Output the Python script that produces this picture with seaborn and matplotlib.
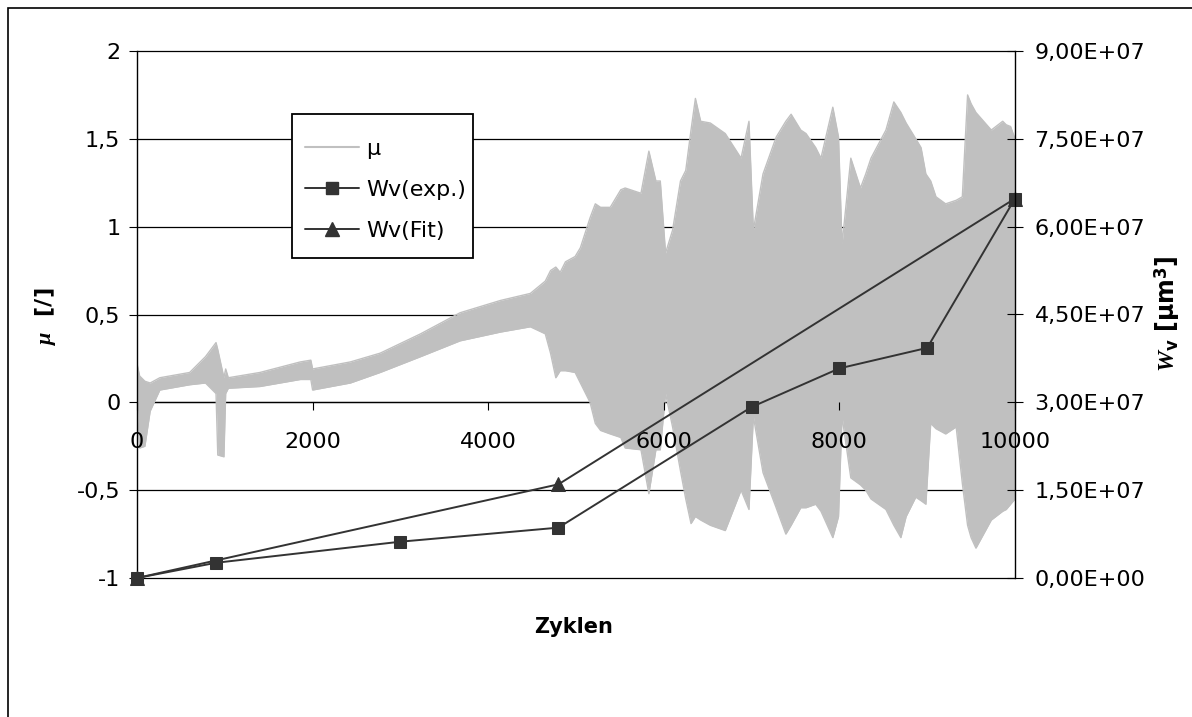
import matplotlib
matplotlib.use("Agg")
import matplotlib.pyplot as plt
import seaborn as sns
import pandas as pd
from matplotlib.lines import Line2D
from matplotlib.patches import Rectangle
from matplotlib.ticker import FixedLocator, FixedFormatter

# ---- data ----
# friction coefficient mu: upper / lower envelope of the dense oscillating signal
cycles_mu = [0, 30, 90, 150, 260, 600, 780, 900, 920, 990, 1010, 1040, 1400, 1860,
             1980, 2000, 2430, 2770, 3230, 3680, 4140, 4480, 4650, 4710, 4770, 4820,
             4880, 4990, 5050, 5160, 5220, 5280, 5390, 5510, 5560, 5740, 5830, 5910,
             5960, 6020, 6100, 6190, 6250, 6310, 6360, 6420, 6530, 6700, 6880, 6970,
             7020, 7130, 7280, 7390, 7450, 7560, 7620, 7730, 7790, 7925, 7990, 8030,
             8130, 8240, 8300, 8360, 8530, 8620, 8700, 8760, 8870, 8930, 8985, 9040,
             9100, 9210, 9330, 9400, 9460, 9500, 9555, 9730, 9860, 9900, 9950, 10000]
mu_upper = [0.22, 0.15, 0.12, 0.11, 0.14, 0.17, 0.26, 0.34, 0.30, 0.14, 0.19, 0.14,
            0.17, 0.23, 0.24, 0.19, 0.23, 0.28, 0.39, 0.51, 0.58, 0.62, 0.69, 0.75,
            0.77, 0.74, 0.80, 0.83, 0.88, 1.05, 1.13, 1.11, 1.11, 1.21, 1.22, 1.19,
            1.43, 1.26, 1.26, 0.85, 0.98, 1.26, 1.32, 1.55, 1.73, 1.60, 1.59, 1.53,
            1.39, 1.60, 0.98, 1.30, 1.51, 1.60, 1.64, 1.55, 1.53, 1.45, 1.39, 1.68,
            1.51, 0.90, 1.39, 1.22, 1.30, 1.39, 1.55, 1.71, 1.65, 1.59, 1.50, 1.45,
            1.30, 1.26, 1.17, 1.13, 1.15, 1.17, 1.75, 1.70, 1.65, 1.55, 1.60, 1.58,
            1.57, 1.50]
mu_lower = [0.00, -0.26, -0.25, -0.05, 0.07, 0.10, 0.11, 0.05, -0.30, -0.31, 0.05, 0.08,
            0.09, 0.13, 0.13, 0.07, 0.11, 0.17, 0.26, 0.35, 0.40, 0.43, 0.39, 0.28,
            0.14, 0.18, 0.18, 0.17, 0.11, 0.00, -0.12, -0.16, -0.18, -0.20, -0.26,
            -0.27, -0.52, -0.27, -0.27, 0.05, -0.14, -0.39, -0.55, -0.69, -0.65, -0.67,
            -0.70, -0.73, -0.50, -0.61, -0.08, -0.40, -0.60, -0.75, -0.70, -0.60, -0.60,
            -0.58, -0.62, -0.77, -0.65, -0.08, -0.43, -0.47, -0.50, -0.55, -0.61, -0.70,
            -0.77, -0.65, -0.54, -0.56, -0.58, -0.12, -0.15, -0.18, -0.14, -0.46, -0.70,
            -0.77, -0.83, -0.67, -0.62, -0.61, -0.58, -0.55]

# wear volume
wv_exp_cycles = [0, 900, 3000, 4800, 7000, 8000, 9000, 10000]
wv_exp = [0.0, 2.6e6, 6.2e6, 8.6e6, 2.92e7, 3.58e7, 3.93e7, 6.48e7]
wv_fit_cycles = [0, 4800, 10000]
wv_fit = [0.0, 1.6e7, 6.48e7]

x_ticks = [0, 2000, 4000, 6000, 8000, 10000]
x_tick_labels = ["0", "2000", "4000", "6000", "8000", "10000"]
mu_ticks = [-1, -0.5, 0, 0.5, 1, 1.5, 2]
mu_tick_labels = ["-1", "-0,5", "0", "0,5", "1", "1,5", "2"]
wv_ticks = [0, 1.5e7, 3.0e7, 4.5e7, 6.0e7, 7.5e7, 9.0e7]
wv_tick_labels = ["0,00E+00", "1,50E+07", "3,00E+07", "4,50E+07",
                  "6,00E+07", "7,50E+07", "9,00E+07"]

# ---- style ----
sns.set_style("ticks")
plt.rcParams["font.family"] = ["DejaVu Sans"]
plt.rcParams["text.color"] = "black"
plt.rcParams["axes.labelcolor"] = "black"
plt.rcParams["xtick.color"] = "black"
plt.rcParams["ytick.color"] = "black"
plt.rcParams["axes.edgecolor"] = "black"
plt.rcParams["mathtext.fontset"] = "custom"
plt.rcParams["mathtext.it"] = "Liberation Serif:italic:bold"
plt.rcParams["mathtext.rm"] = "DejaVu Sans:bold"

GRAY = "#C0C0C0"
DARK = "#333333"
W, H = 1192, 717

fig = plt.figure(figsize=(W / 100, H / 100), dpi=100)
fig.patch.set_facecolor("white")
# outer chart border (left/top visible)
fig.patches.append(Rectangle((8 / W, -0.5), 2.0, 0.5 + 1 - 8 / H, transform=fig.transFigure,
                             fill=False, edgecolor="black", linewidth=1.2, zorder=0))

ax = fig.add_axes([137 / W, 1 - 578 / H, (1015 - 137) / W, (578 - 51) / H])
ax2 = ax.twinx()

# mu signal
df_mu = pd.DataFrame({"Zyklen": cycles_mu, "upper": mu_upper, "lower": mu_lower})
ax.fill_between(df_mu["Zyklen"], df_mu["lower"], df_mu["upper"], color=GRAY, lw=0, zorder=1)
sns.lineplot(data=df_mu, x="Zyklen", y="upper", color=GRAY, lw=1.0, ax=ax, zorder=1)
sns.lineplot(data=df_mu, x="Zyklen", y="lower", color=GRAY, lw=1.0, ax=ax, zorder=1)

# wear volume
df_exp = pd.DataFrame({"Zyklen": wv_exp_cycles, "Wv": wv_exp})
df_fit = pd.DataFrame({"Zyklen": wv_fit_cycles, "Wv": wv_fit})
sns.lineplot(data=df_fit, x="Zyklen", y="Wv", ax=ax2, color=DARK, lw=1.4, marker="^",
             markersize=10, markeredgecolor=DARK, markerfacecolor=DARK, clip_on=False)
sns.lineplot(data=df_exp, x="Zyklen", y="Wv", ax=ax2, color=DARK, lw=1.4, marker="s",
             markersize=9, markeredgecolor=DARK, markerfacecolor=DARK, clip_on=False)

for a in (ax, ax2):
    if a.get_legend() is not None:
        a.get_legend().remove()
    a.set_xlabel("")
    a.set_ylabel("")

# axes limits
ax.set_xlim(0, 10000)
ax.set_ylim(-1, 2)
ax2.set_ylim(0, 9e7)

# left axis
ax.yaxis.set_major_locator(FixedLocator(mu_ticks))
ax.yaxis.set_major_formatter(FixedFormatter(mu_tick_labels))
ax.yaxis.grid(True, color="black", lw=0.9)
ax.xaxis.grid(False)
ax.set_axisbelow(True)
ax.xaxis.set_zorder(2)
ax.tick_params(axis="y", direction="out", length=6, width=0.8, color="black",
               labelsize=16, pad=6, labelcolor="black")

# x axis crossing at mu = 0
ax.xaxis.set_major_locator(FixedLocator(x_ticks))
ax.xaxis.set_major_formatter(FixedFormatter(x_tick_labels))
ax.spines["bottom"].set_position(("data", 0))
ax.spines["bottom"].set_zorder(0.6)
ax.spines["bottom"].set_color("black")
ax.spines["bottom"].set_linewidth(0.9)
ax.tick_params(axis="x", direction="out", length=6, width=0.8, color="black",
               labelsize=16, pad=15, labelcolor="black")
ax.spines["left"].set_color("black")
ax.spines["left"].set_linewidth(1.0)
ax.spines["top"].set_visible(False)
ax.spines["right"].set_visible(False)

# right axis
ax2.yaxis.set_major_locator(FixedLocator(wv_ticks))
ax2.yaxis.set_major_formatter(FixedFormatter(wv_tick_labels))
ax2.tick_params(axis="y", direction="inout", length=12, width=0.8, color="black",
                labelsize=16, pad=8, labelcolor="black")
for s in ("top", "left", "bottom"):
    ax2.spines[s].set_visible(False)
ax2.spines["right"].set_color("black")
ax2.spines["right"].set_linewidth(1.0)
ax2.grid(False)

fig.canvas.draw()
for gl in ax.get_ygridlines():
    gl.set_clip_on(False)

# axis titles
fig.text(574 / W, 1 - 627 / H, "Zyklen", ha="center", va="center",
         fontsize=15, fontweight="bold", color="black")
fig.text(45 / W, 1 - 316 / H, r"$\mathit{μ}$  [/]", rotation=90, ha="center", va="center",
         fontsize=16, fontweight="bold", color="black")
fig.text(1168 / W, 1 - 314 / H, r"$\mathit{W}_{\mathrm{v}}$ [µm$^{\mathrm{3}}$]", rotation=90,
         ha="center", va="center", fontsize=17, fontweight="bold", color="black")

# legend: frame drawn as a figure rectangle, entries placed inside it
fig.patches.append(Rectangle((292 / W, 1 - 258 / H), (473 - 292) / W, (258 - 114) / H,
                             transform=fig.transFigure, facecolor="white",
                             edgecolor="black", linewidth=1.3, zorder=3))
handles = [Line2D([], [], color=GRAY, lw=1.5),
           Line2D([], [], color=DARK, lw=1.4, marker="s", markersize=9),
           Line2D([], [], color=DARK, lw=1.4, marker="^", markersize=10)]
labels = ["μ", "Wv(exp.)", "Wv(Fit)"]
leg = fig.legend(handles, labels, loc="center left",
                 bbox_to_anchor=(305 / W, 1 - 190 / H), bbox_transform=fig.transFigure,
                 borderaxespad=0, borderpad=0, fontsize=16, frameon=False,
                 handlelength=2.45, handletextpad=0.3, labelspacing=0.95)
leg.set_zorder(4)
for t in leg.get_texts():
    t.set_color("black")

fig.savefig("out.png", dpi=100, facecolor="white")
